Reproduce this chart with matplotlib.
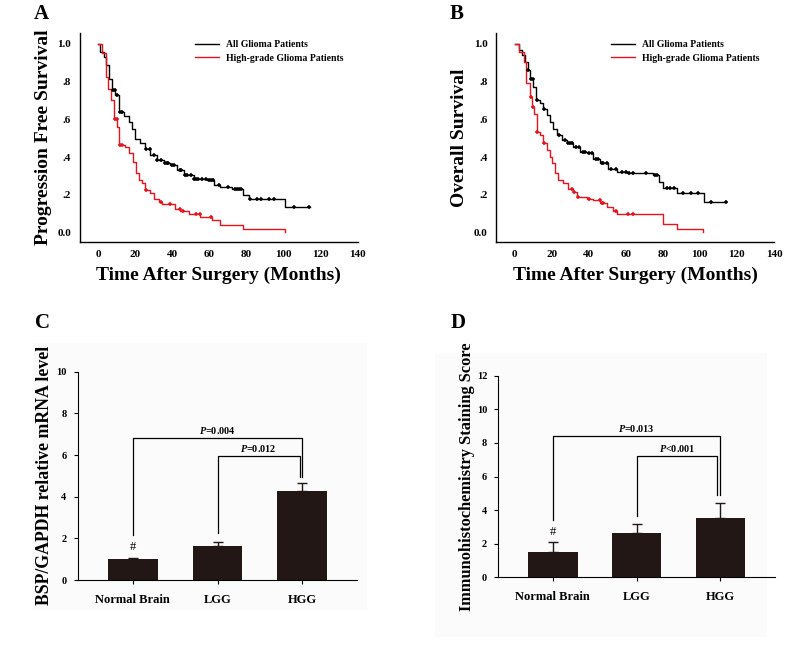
import numpy as np
import matplotlib
matplotlib.use("Agg")
import matplotlib.pyplot as plt
from matplotlib.lines import Line2D
from matplotlib.patches import Rectangle

plt.rcParams['font.family'] = ['Liberation Serif', 'DejaVu Serif']
plt.rcParams['font.weight'] = 'bold'
plt.rcParams['mathtext.fontset'] = 'custom'
plt.rcParams['mathtext.rm'] = 'Liberation Serif'
plt.rcParams['mathtext.bf'] = 'Liberation Serif:bold'
plt.rcParams['mathtext.it'] = 'Liberation Serif:italic'
plt.rcParams['mathtext.bfit'] = 'Liberation Serif:bold:italic'

# ---------------- Data ----------------
# Panel A: progression free survival (Kaplan-Meier steps)
pfs_all_t = [0, 1.3, 3.0, 4.5, 5.8, 7.5, 9.3, 11.1, 11.5, 13.8, 16.5, 18.3, 20.1, 22.8, 25.5, 28.2,
             31.8, 35.4, 39.0, 42.6, 46.2, 51.6, 58.8, 62.4, 66.0, 72.2, 78.3, 81.2, 100.8, 114.5]
pfs_all_s = [1.0, 0.958, 0.93, 0.887, 0.816, 0.754, 0.728, 0.70, 0.64, 0.62, 0.587, 0.551, 0.498, 0.472,
             0.445, 0.41, 0.383, 0.366, 0.357, 0.33, 0.304, 0.286, 0.277, 0.251, 0.242, 0.233, 0.198,
             0.177, 0.133, 0.133]
pfs_all_cens = [8, 9, 10, 12, 13, 26, 28, 30, 32, 34, 36, 37, 38, 40, 41, 44, 45, 47, 48, 50, 52, 53,
                54, 56, 58, 60, 61, 62, 65, 70, 74, 75, 76, 77, 82, 86, 88, 92, 95, 106, 114]
pfs_hgg_t = [0, 2.2, 4.5, 5.2, 7.2, 8.8, 10.2, 11.1, 14.7, 16.5, 18.7, 20.5, 21.9, 23.7, 25.5, 28.2,
             30.4, 32.7, 34.5, 41.7, 44.4, 48.9, 55.2, 61.5, 66.0, 78.2, 101.0]
pfs_hgg_s = [1.0, 0.95, 0.825, 0.763, 0.70, 0.604, 0.56, 0.463, 0.454, 0.419, 0.375, 0.313, 0.277, 0.26,
             0.224, 0.207, 0.18, 0.163, 0.15, 0.127, 0.115, 0.097, 0.083, 0.065, 0.039, 0.021, 0.004]
pfs_hgg_cens = [9, 10, 12, 13, 26, 34, 39, 44, 46, 53, 55, 61]

# Panel B: overall survival
os_all_t = [0, 2.2, 3.9, 5.7, 7.0, 8.4, 10.2, 11.5, 13.8, 15.6, 17.4, 19.2, 21.0, 22.8, 25.5, 28.2, 31.8,
            35.4, 39.0, 42.5, 46.1, 50.6, 55.1, 60.5, 74.9, 78.1, 80.2, 87.4, 102.1, 114.3]
os_all_s = [1.0, 0.966, 0.94, 0.905, 0.86, 0.816, 0.772, 0.70, 0.684, 0.657, 0.622, 0.587, 0.551, 0.516,
            0.49, 0.472, 0.454, 0.428, 0.419, 0.392, 0.366, 0.339, 0.322, 0.313, 0.304, 0.269, 0.237,
            0.212, 0.163, 0.163]
os_all_cens = [7, 9, 10, 12, 16, 24, 27, 29, 30, 31, 33, 35, 37, 38, 40, 42, 44, 45, 47, 48, 50, 52,
               55, 58, 60, 62, 64, 71, 76, 77, 82, 84, 86, 91, 95, 99, 106, 114]
os_hgg_t = [0, 2.2, 4.9, 6.3, 8.1, 9.3, 10.6, 12.0, 13.8, 15.6, 17.4, 19.2, 20.1, 21.9, 23.7, 26.4, 29.1,
            31.8, 33.6, 39.0, 42.5, 46.1, 49.7, 53.3, 55.1, 79.9, 87.4, 101.8]
os_hgg_s = [1.0, 0.958, 0.905, 0.79, 0.719, 0.666, 0.63, 0.534, 0.516, 0.472, 0.436, 0.40, 0.366, 0.313,
            0.277, 0.26, 0.233, 0.216, 0.189, 0.18, 0.171, 0.154, 0.136, 0.115, 0.10, 0.044, 0.021, 0.004]
os_hgg_cens = [9, 10, 12, 16, 31, 32, 34, 40, 46, 47, 48, 55, 61, 64]

# Panel C: BSP mRNA
groups = ["Normal Brain", "LGG", "HGG"]
mrna_mean = [1.03, 1.65, 4.27]
mrna_err = [0.04, 0.16, 0.40]
# Panel D: IHC score
ihc_mean = [1.52, 2.62, 3.51]
ihc_err = [0.60, 0.55, 0.93]

# significance brackets: (left group, right group, bracket height, left leg end, right leg end, p label)
mrna_brackets = [(0, 2, 6.8, 2.16, 4.96, "=0.004"), (1, 1.97, 5.97, 2.24, 4.96, "=0.012")]
ihc_brackets = [(0, 2, 8.43, 3.41, 4.9, "=0.013"), (1, 1.96, 7.24, 3.65, 4.9, "<0.001")]

BAR_COLOR = '#221714'
RED = '#e8141c'

fig = plt.figure(figsize=(7.85, 6.56), dpi=100)

# very faint scan background boxes behind lower panels
fig.patches.append(Rectangle((33 / 785, 1 - 610 / 656), 334 / 785, 267 / 656, transform=fig.transFigure,
                             facecolor='#fbfbfb', edgecolor='none', zorder=-5))
fig.patches.append(Rectangle((435 / 785, 1 - 637 / 656), 332 / 785, 284 / 656, transform=fig.transFigure,
                             facecolor='#fbfbfb', edgecolor='none', zorder=-5))


def surv_at(t_list, s_list, t):
    idx = np.searchsorted(np.asarray(t_list), t, side='right') - 1
    return np.asarray(s_list)[idx]


def km_panel(rect, all_t, all_s, all_c, hgg_t, hgg_s, hgg_c, ylabel, letter, lx):
    ax = fig.add_axes(rect)
    ax.plot(all_t, all_s, drawstyle='steps-post', color='black', lw=1.0)
    ax.plot(hgg_t, hgg_s, drawstyle='steps-post', color=RED, lw=1.0)
    ax.plot(all_c, surv_at(all_t, all_s, all_c), ls='none', marker='+', ms=3.5, mew=1.1, color='black')
    ax.plot(hgg_c, surv_at(hgg_t, hgg_s, hgg_c), ls='none', marker='+', ms=3.5, mew=1.1, color=RED)
    ax.set_xlim(-10, 140)
    ax.set_ylim(-0.05, 1.057)
    ax.set_xticks(range(0, 141, 20))
    ax.set_yticks([0, 0.2, 0.4, 0.6, 0.8, 1.0])
    ax.set_yticklabels(['0.0', '.2', '.4', '.6', '.8', '1.0'])
    for s in ['top', 'right']:
        ax.spines[s].set_visible(False)
    for s in ['left', 'bottom']:
        ax.spines[s].set_linewidth(1.0)
    ax.tick_params(axis='both', length=0, labelsize=8, pad=6)
    for lab in ax.get_xticklabels() + ax.get_yticklabels():
        lab.set_fontweight('bold')
    ax.set_xlabel('Time After Surgery (Months)', fontsize=14, fontweight='bold', labelpad=5)
    ax.set_ylabel(ylabel, fontsize=14, fontweight='bold', labelpad=4)
    handles = [Line2D([], [], color='black', lw=1.0), Line2D([], [], color=RED, lw=1.0)]
    ax.legend(handles, ['All Glioma Patients', 'High-grade Glioma Patients'], frameon=False,
              loc='upper left', bbox_to_anchor=(0.40, 0.985), prop={'size': 7, 'weight': 'bold'},
              handlelength=2.5, handletextpad=0.7, labelspacing=0.5, borderaxespad=0)
    fig.text(lx, 1 - 14 / 656, letter, fontsize=15, fontweight='bold', ha='center', va='center')
    return ax


km_panel([79.5 / 785, 1 - 242 / 656, 278 / 785, 209 / 656], pfs_all_t, pfs_all_s, pfs_all_cens,
         pfs_hgg_t, pfs_hgg_s, pfs_hgg_cens, 'Progression Free Survival', 'A', 41 / 785)
km_panel([496 / 785, 1 - 242 / 656, 278 / 785, 209 / 656], os_all_t, os_all_s, os_all_cens,
         os_hgg_t, os_hgg_s, os_hgg_cens, 'Overall Survival', 'B', 457 / 785)


def bar_panel(rect, means, errs, ymax, brackets, ylabel, letter, lx, ly, ylfs, ylpad):
    ax = fig.add_axes(rect)
    ax.patch.set_alpha(0)
    x = np.arange(len(groups))
    ax.bar(x, means, width=0.59, color=BAR_COLOR, zorder=2)
    ax.errorbar(x, means, yerr=[np.zeros(len(errs)), errs], fmt='none', ecolor=BAR_COLOR,
                elinewidth=1.0, capsize=3.5, capthick=1.0, zorder=1)
    off = ymax / 28.0
    for (g1, g2, h, e1, e2, lab) in brackets:
        ax.plot([g1, g1, g2, g2], [e1, h, h, e2], color='black', lw=0.9)
        ax.text((g1 + g2) / 2, h + off, r'$\mathbfit{P}$' + lab, fontweight='bold',
                ha='center', va='center', fontsize=7.3)
    ax.text(0, means[0] + errs[0] + off * 1.4, '#', ha='center', va='center',
            fontsize=9, fontweight='normal')
    ax.set_xlim(-0.65, 2.65)
    ax.set_ylim(0, ymax)
    ax.set_yticks(range(0, ymax + 1, 2))
    ax.set_xticks(x)
    ax.set_xticklabels(groups)
    for s in ['top', 'right']:
        ax.spines[s].set_visible(False)
    ax.tick_params(axis='y', length=3, width=0.8, direction='out', labelsize=7.5, pad=5)
    ax.tick_params(axis='x', length=3, width=0.8, direction='out', labelsize=9, pad=7)
    for lab in ax.get_xticklabels() + ax.get_yticklabels():
        lab.set_fontweight('bold')
    ax.set_ylabel(ylabel, fontsize=ylfs, fontweight='bold', labelpad=ylpad)
    fig.text(lx, ly, letter, fontsize=15, fontweight='bold', ha='center', va='center')
    return ax


bar_panel([77.7 / 785, 1 - 580 / 656, 279.6 / 785, 208.3 / 656], mrna_mean, mrna_err, 10, mrna_brackets,
          'BSP/GAPDH relative mRNA level', 'C', 42 / 785, 1 - 323 / 656, 12.8, 2.5)
bar_panel([498.3 / 785, 1 - 577.3 / 656, 276.7 / 785, 201.6 / 656], ihc_mean, ihc_err, 12, ihc_brackets,
          'Immunohistochemistry Staining Score', 'D', 458 / 785, 1 - 323 / 656, 11.8, 1.5)

fig.savefig('out.png', dpi=100)
